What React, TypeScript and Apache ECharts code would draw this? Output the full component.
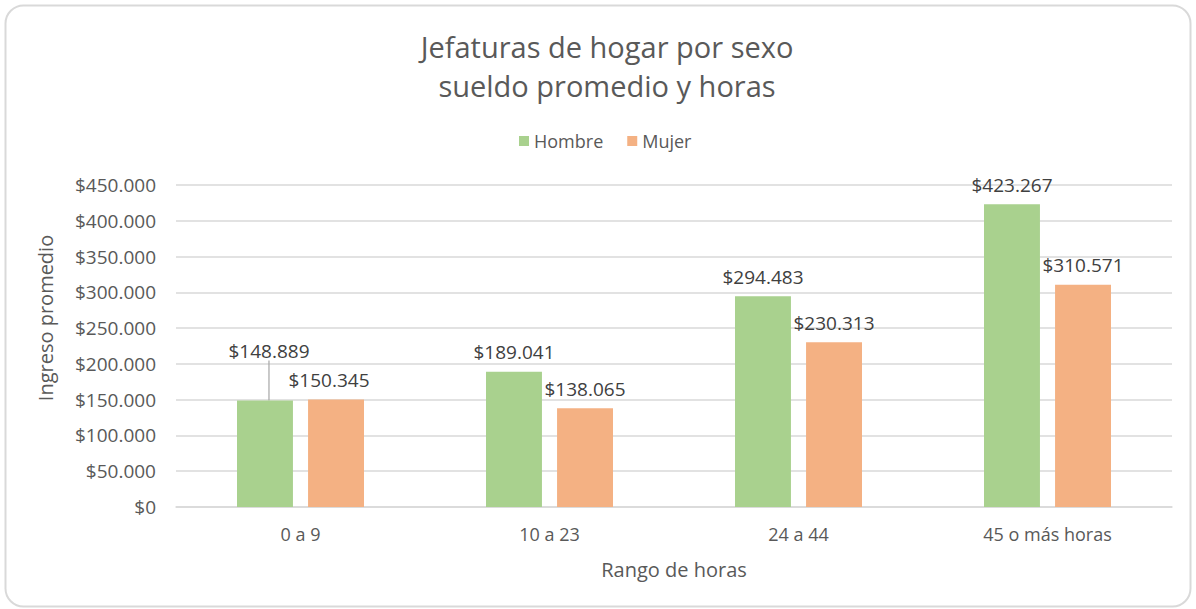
import React, { useEffect, useRef } from "react";
import * as echarts from "echarts";

const categories = ["0 a 9", "10 a 23", "24 a 44", "45 o más horas"];
const hombre = [148889, 189041, 294483, 423267];
const mujer = [150345, 138065, 230313, 310571];
const hombreLabelDy = [-30, 0, 0, 0];
const hombreLabelDx = [4, 0, 0, 0];
const hombreLeader = [true, false, false, false];
const mujerLabelDx = [-7, 0, 0, 0];

const FONT = "'Open Sans', Lato, sans-serif";
const TXT = "#595959";

const fmt = (v: number) =>
  "$" + Math.round(v).toString().replace(/\B(?=(\d{3})+(?!\d))/g, ".");

export default function App() {
  const ref = useRef<HTMLDivElement>(null);
  useEffect(() => {
    const chart = echarts.init(ref.current!, null, { renderer: "svg" });
    const labelCommon = {
      show: true,
      position: "top" as const,
      distance: 10,
      color: "#404040",
      fontSize: 19,
      fontFamily: FONT,
      formatter: (p: any) => fmt(p.value),
    };
    chart.setOption({
      animation: false,
      backgroundColor: "#fff",
      textStyle: { fontFamily: FONT },
      graphic: [
        {
          type: "rect",
          shape: { x: 5.5, y: 5.5, width: 1185, height: 601, r: 18 },
          style: { fill: "none", stroke: "#d9d9d9", lineWidth: 2 },
          z: -1,
        },
      ],
      title: {
        text: "Jefaturas de hogar por sexo\nsueldo promedio y horas",
        left: 602,
        textAlign: "center",
        top: 22,
        textStyle: {
          fontFamily: FONT,
          fontSize: 29,
          fontWeight: "normal",
          color: TXT,
          lineHeight: 39,
        },
      },
      legend: {
        top: 127,
        left: 514,
        itemWidth: 10,
        itemHeight: 10,
        itemGap: 24,
        icon: "rect",
        textStyle: { fontFamily: FONT, fontSize: 18, color: TXT },
        data: ["Hombre", "Mujer"],
      },
      grid: { left: 176, right: 24, top: 185, bottom: 102, containLabel: false },
      xAxis: {
        type: "category",
        data: categories,
        axisTick: { show: false },
        axisLine: { lineStyle: { color: "#d9d9d9", width: 1.5 } },
        axisLabel: { color: TXT, fontSize: 18, fontFamily: FONT, margin: 18 },
        name: "Rango de horas",
        nameLocation: "middle",
        nameGap: 52,
        nameTextStyle: { color: TXT, fontSize: 20, fontFamily: FONT },
      },
      yAxis: {
        type: "value",
        min: 0,
        max: 450000,
        interval: 50000,
        axisLabel: {
          color: TXT,
          fontSize: 19,
          fontFamily: FONT,
          margin: 20,
          formatter: (v: number) => fmt(v),
        },
        splitLine: { lineStyle: { color: "#d9d9d9", width: 1.5 } },
        name: "Ingreso promedio",
        nameLocation: "middle",
        nameGap: 121,
        nameRotate: 90,
        nameTextStyle: {
          color: TXT,
          fontSize: 20,
          fontFamily: FONT,
          padding: [0, 0, 0, 56],
        },
      },
      series: [
        {
          name: "Hombre",
          type: "bar",
          data: hombre.map((v, i) => ({
            value: v,
            labelLine: { show: hombreLeader[i] },
          })),
          itemStyle: { color: "#A9D18E" },
          barGap: "27%",
          barCategoryGap: "49%",
          label: labelCommon,
          labelLayout: (p: any) => ({
            dy: hombreLabelDy[p.dataIndex],
            dx: hombreLabelDx[p.dataIndex],
          }),
          labelLine: { show: false, lineStyle: { color: "#a6a6a6", width: 1.2 } },
        },
        {
          name: "Mujer",
          type: "bar",
          data: mujer,
          itemStyle: { color: "#F4B183" },
          label: labelCommon,
          labelLayout: (p: any) => ({ dx: mujerLabelDx[p.dataIndex] }),
        },
      ],
    });
    return () => chart.dispose();
  }, []);
  return (
    <div
      ref={ref}
      style={{ position: "fixed", left: 0, top: 0, width: 1196, height: 609 }}
    />
  );
}
